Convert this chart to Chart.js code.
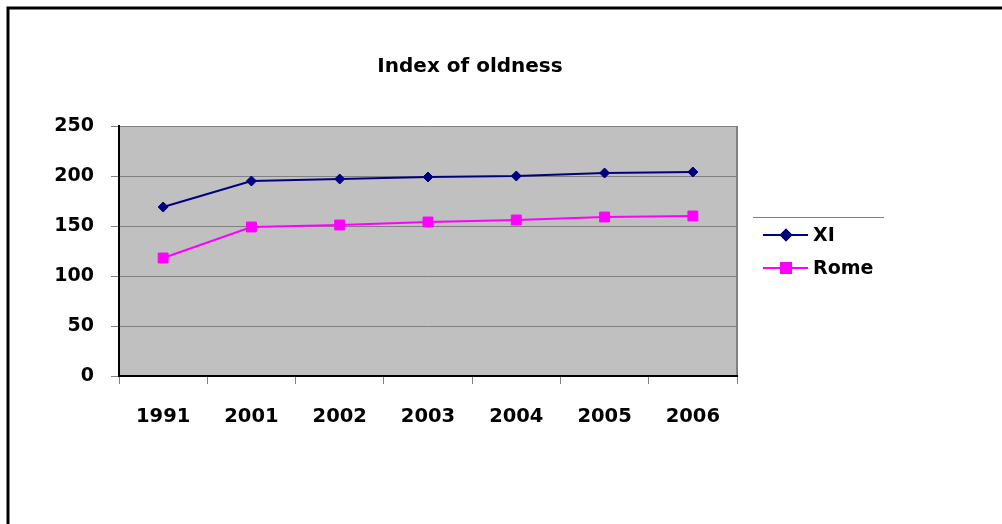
<!DOCTYPE html>
<html>
<head>
<meta charset="utf-8">
<title>Index of oldness</title>
<script src="https://cdn.jsdelivr.net/npm/chart.js@4/dist/chart.umd.min.js"></script>
<style>
  html, body { margin: 0; padding: 0; background: #fff; }
  #wrap { width: 1002px; height: 524px; position: relative; }
</style>
</head>
<body>
<div id="wrap"><canvas id="c" width="1002" height="524"></canvas></div>
<script>
// Chart content
const chartTitle = 'Index of oldness';
const years = ['1991', '2001', '2002', '2003', '2004', '2005', '2006'];
const xiValues = [169, 195, 197, 199, 200, 203, 204];
const romeValues = [118, 149, 151, 154, 156, 159, 160];
const seriesNames = ['XI', 'Rome'];
const yTicks = [0, 50, 100, 150, 200, 250];

const FONT = 'DejaVu Sans';

// Page frame, plot background, title and legend
const decor = {
  id: 'decor',
  beforeDraw(chart) {
    const { ctx, chartArea: a } = chart;
    ctx.save();
    ctx.fillStyle = '#ffffff';
    ctx.fillRect(0, 0, chart.width, chart.height);
    // frame on the top and left sides
    ctx.strokeStyle = '#000000';
    ctx.lineWidth = 3;
    ctx.beginPath();
    ctx.moveTo(8, chart.height);
    ctx.lineTo(8, 8);
    ctx.lineTo(chart.width, 8);
    ctx.stroke();
    // plot area
    ctx.fillStyle = '#c0c0c0';
    ctx.fillRect(a.left, a.top, a.right - a.left, a.bottom - a.top);
    ctx.strokeStyle = '#808080';
    ctx.lineWidth = 2;
    ctx.beginPath();
    ctx.moveTo(a.right, a.top);
    ctx.lineTo(a.right, a.bottom);
    ctx.stroke();
    ctx.restore();
  },
  afterDraw(chart) {
    const { ctx } = chart;
    ctx.save();
    // title
    ctx.fillStyle = '#000';
    ctx.font = 'bold 20px "' + FONT + '"';
    ctx.textAlign = 'center';
    ctx.textBaseline = 'middle';
    ctx.fillText(chartTitle, 470, 67);
    // legend
    ctx.strokeStyle = '#808080';
    ctx.lineWidth = 1;
    ctx.beginPath();
    ctx.moveTo(753, 217.5);
    ctx.lineTo(884, 217.5);
    ctx.stroke();
    const rows = [235, 268];
    chart.data.datasets.forEach((ds, i) => {
      const y = rows[i];
      ctx.strokeStyle = ds.borderColor;
      ctx.lineWidth = 2;
      ctx.beginPath();
      ctx.moveTo(763, y);
      ctx.lineTo(808, y);
      ctx.stroke();
      Chart.helpers.drawPoint(ctx, {
        pointStyle: ds.pointStyle,
        radius: ds.pointRadius,
        rotation: 0,
        borderWidth: 1
      }, 786, y);
      ctx.fillStyle = ds.pointBackgroundColor;
      ctx.strokeStyle = ds.pointBorderColor;
      ctx.fill();
      ctx.stroke();
      ctx.fillStyle = '#000';
      ctx.font = 'bold 19px "' + FONT + '"';
      ctx.textAlign = 'left';
      ctx.textBaseline = 'middle';
      ctx.fillText(ds.label, 813, y + 1);
    });
    ctx.restore();
  }
};

new Chart(document.getElementById('c'), {
  type: 'line',
  data: {
    labels: years,
    datasets: [
      {
        label: seriesNames[0],
        data: xiValues,
        borderColor: '#000080',
        backgroundColor: '#000080',
        borderWidth: 2,
        pointStyle: 'rectRot',
        pointRadius: 5,
        pointHoverRadius: 5,
        pointBackgroundColor: '#000080',
        pointBorderColor: '#000080',
        pointBorderWidth: 1,
        tension: 0
      },
      {
        label: seriesNames[1],
        data: romeValues,
        borderColor: '#ff00ff',
        backgroundColor: '#ff00ff',
        borderWidth: 2,
        pointStyle: 'rect',
        pointRadius: 7,
        pointHoverRadius: 7,
        pointBackgroundColor: '#ff00ff',
        pointBorderColor: '#ff00ff',
        pointBorderWidth: 1,
        tension: 0
      }
    ]
  },
  options: {
    responsive: false,
    animation: false,
    events: [],
    layout: { padding: { left: 0, top: 126, right: 265, bottom: 88 } },
    plugins: {
      legend: { display: false },
      title: { display: false },
      tooltip: { enabled: false }
    },
    scales: {
      x: {
        type: 'category',
        offset: true,
        afterFit(scale) { scale.height = 60; },
        grid: {
          offset: true,
          drawOnChartArea: false,
          drawTicks: true,
          tickLength: 8,
          color: '#808080',
          lineWidth: 1
        },
        border: { display: true, color: '#000000', width: 2 },
        ticks: {
          color: '#000',
          padding: 21,
          maxRotation: 0,
          font: { family: FONT, size: 19.5, weight: 'bold' }
        }
      },
      y: {
        min: yTicks[0],
        max: yTicks[yTicks.length - 1],
        afterFit(scale) { scale.width = 119; },
        afterBuildTicks(scale) { scale.ticks = yTicks.map(v => ({ value: v })); },
        grid: {
          drawOnChartArea: true,
          drawTicks: true,
          tickLength: 8,
          color: '#808080',
          lineWidth: 1
        },
        border: { display: true, color: '#000000', width: 2 },
        ticks: {
          color: '#000',
          padding: 17,
          labelOffset: 0,
          font: { family: FONT, size: 19, weight: 'bold' }
        }
      }
    }
  },
  plugins: [decor]
});
</script>
</body>
</html>
